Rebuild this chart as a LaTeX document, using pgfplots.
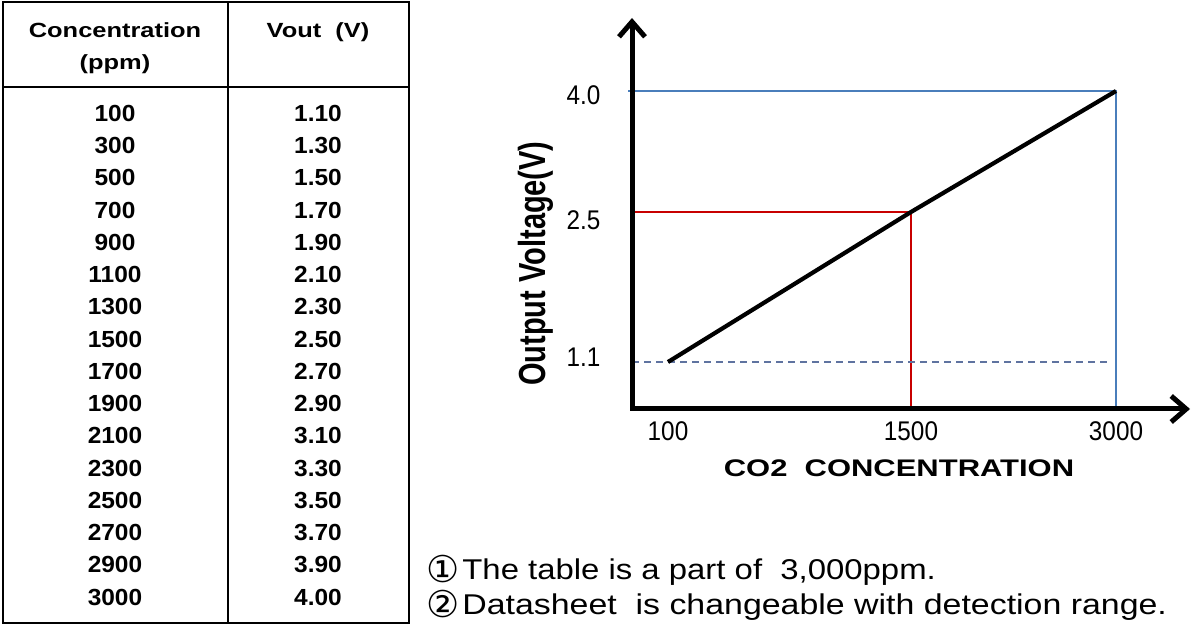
\documentclass[border=0pt]{standalone}
\usepackage{fontspec}
\setmainfont{Liberation Sans}
\newfontfamily\symfont{DejaVu Sans}
\usepackage{graphicx}
\usepackage{pgfplots}
\pgfplotsset{compat=1.18}
\usetikzlibrary{arrows.meta}
\definecolor{lineblue}{RGB}{74,126,187}
\definecolor{linered}{RGB}{200,0,0}
\definecolor{dashblue}{RGB}{95,115,160}
\newcommand{\fs}[1]{\fontsize{#1bp}{#1bp}\selectfont}
\begin{document}
\begin{tikzpicture}
\useasboundingbox (0,0) rectangle (1191bp,628bp);
\begin{scope}[x=1bp,y=-1bp,yshift=628bp]
  % table frame
  \draw[line width=2bp] (3,2) rectangle (409,623);
  \draw[line width=2bp] (228,2) -- (228,623);
  \draw[line width=2bp] (3,87) -- (409,87);
  \node[anchor=base,inner sep=0] at (115,37.5) {\scalebox{1.24}[1]{\fs{20.5}\bfseries Concentration}};
  \node[anchor=base,inner sep=0] at (115,70) {\scalebox{1.24}[1]{\fs{20.5}\bfseries (ppm)}};
  \node[anchor=base,inner sep=0] at (318,37.5) {\scalebox{1.24}[1]{\fs{20.5}\bfseries Vout\ \ (V)}};
  \foreach \c/\v [count=\i from 0] in {100/1.10,300/1.30,500/1.50,700/1.70,900/1.90,1100/2.10,1300/2.30,1500/2.50,1700/2.70,1900/2.90,2100/3.10,2300/3.30,2500/3.50,2700/3.70,2900/3.90,3000/4.00}{
    \node[anchor=base,inner sep=0] at (115,121.3+32.25*\i) {\scalebox{1.05}[1]{\fs{23.3}\bfseries \c}};
    \node[anchor=base,inner sep=0] at (318,121.3+32.25*\i) {\scalebox{1.05}[1]{\fs{23.3}\bfseries \v}};
  }
  % notes
  \node[anchor=base west,inner sep=0] at (426,580) {\fs{28.6}\raisebox{-3bp}{\symfont\fs{37}①}\hspace{3bp}\scalebox{1.15}[1]{The table is a part of\ \ 3,000ppm.}};
  \node[anchor=base west,inner sep=0] at (426,615) {\fs{28.6}\raisebox{-3bp}{\symfont\fs{37}②}\hspace{3bp}\scalebox{1.185}[1]{Datasheet\ \ is changeable with detection range.}};
\end{scope}
\begin{axis}[
  at={(632bp,219bp)}, anchor=south west,
  x=1bp, y=1bp,
  x coord trafo/.code={\pgfmathparse{(#1<1500)*(668+(#1-100)*0.1735714)+(1-(#1<1500))*(911+(#1-1500)*0.1366667)}},
  y coord trafo/.code={\pgfmathparse{(#1<2.5)*(266+(#1-1.1)*107.142857)+(1-(#1<2.5))*(416+(#1-2.5)*80.66667)}},
  xmin=-107.4, xmax=3541.5, ymin=0.66133, ymax=4.905,
  axis lines=left,
  axis line style={line width=5bp, line cap=rect},
  x axis line style={-{Straight Barb[length=15bp,width=26bp]}},
  y axis line style={-{Straight Barb[length=15bp,width=26bp]}},
  axis on top, clip=false,
  tick style={draw=none},
  xtick={100,1500,3000},
  xticklabels={\scalebox{0.9}[1]{100},\scalebox{0.9}[1]{1500},\scalebox{0.9}[1]{3000}},
  ytick={1.1,2.5,4.0},
  yticklabels={\raisebox{-4.7bp}{\scalebox{0.9}[1]{1.1}},\raisebox{-17.7bp}{\scalebox{0.9}[1]{2.5}},\raisebox{-13.7bp}{\scalebox{0.9}[1]{4.0}}},
  xticklabel style={font=\fs{27}, yshift=-7.3bp},
  yticklabel style={font=\fs{27}, anchor=base east, xshift=-26bp},
  xlabel={\scalebox{1.29}[1]{\fs{24}\bfseries CO2\ \ CONCENTRATION}},
  ylabel={\scalebox{1}[1.3]{\fs{29}\bfseries Output Voltage(V)}},
  xlabel style={at={(rel axis cs:0.4785,-0.152)}, anchor=center},
  ylabel style={at={(rel axis cs:-0.172,0.372)}, anchor=center},
]
\addplot[lineblue, line width=1.6bp] coordinates {(-130,4.0) (3000,4.0) (3000,0.66133)};
\addplot[linered, line width=2bp] coordinates {(-107.4,2.5) (1500,2.5) (1500,0.66133)};
\addplot[dashblue, line width=1.8bp, dash pattern=on 6.5bp off 5.5bp] coordinates {(-107.4,1.1) (2934,1.1)};
\addplot[black, line width=4.2bp] coordinates {(100,1.1) (1500,2.5) (3000,4.0)};
\end{axis}
\end{tikzpicture}
\end{document}
